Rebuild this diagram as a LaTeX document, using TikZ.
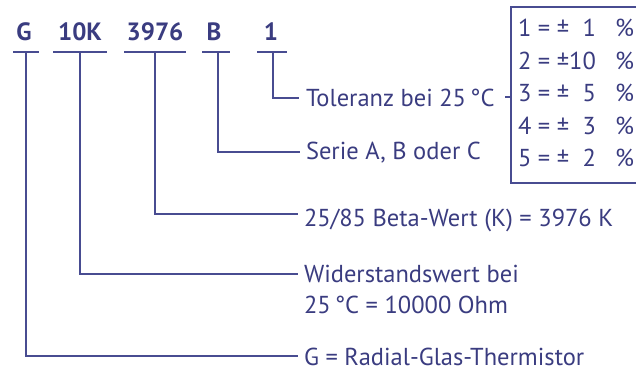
\documentclass[tikz,border=0pt]{standalone}
\usepackage{fontspec}
\setmainfont{PT Sans}
\definecolor{txt}{RGB}{58,60,128}
\definecolor{ln}{RGB}{72,76,145}
\begin{document}
\begin{tikzpicture}[x=1pt,y=-1pt,
  every node/.style={inner sep=0pt, outer sep=0pt, text=txt},
  lbl/.style={font=\fontsize{24.5}{31}\selectfont, anchor=base west},
  code/.style={font=\bfseries\fontsize{25}{30}\selectfont, anchor=base},
  conn/.style={draw=ln, line width=2pt},
  tabbox/.style={draw=ln, line width=2pt, minimum width=160pt, minimum height=176pt, anchor=north west}]
\useasboundingbox (0,0) rectangle (636,371);
% code letters
\node[code] (G) at (24,41) {G};
\node[code] (K) at (80,41) {10K};
\node[code] (beta) at (155,41) {3976};
\node[code] (ser) at (214,41) {B};
\node[code] (tol) at (271,41) {1};
% underlines
\coordinate (uG1) at (13,52);  \coordinate (uG2) at (39,52);
\coordinate (uK1) at (53,52);  \coordinate (uK2) at (107,52);
\coordinate (uB1) at (124,52); \coordinate (uB2) at (186,52);
\coordinate (uS1) at (202,52); \coordinate (uS2) at (230,52);
\coordinate (uT1) at (257,52); \coordinate (uT2) at (287,52);
\draw[conn] (uG1) -- (uG2);
\draw[conn] (uK1) -- (uK2);
\draw[conn] (uB1) -- (uB2);
\draw[conn] (uS1) -- (uS2);
\draw[conn] (uT1) -- (uT2);
% connector tops
\coordinate (vG) at (26,52);
\coordinate (vK) at (80,52);
\coordinate (vB) at (155,52);
\coordinate (vS) at (218,52);
\coordinate (vT) at (273,52);
% connector ends
\coordinate (eT) at (299,98);
\coordinate (eS) at (300,152);
\coordinate (eB) at (298,214);
\coordinate (eK) at (298,274);
\coordinate (eG) at (298,356);
\draw[conn] (vT) |- (eT);
\draw[conn] (vS) |- (eS);
\draw[conn] (vB) |- (eB);
\draw[conn] (vK) |- (eK);
\draw[conn] (vG) |- (eG);
% descriptions
\node[lbl] (tTol) at (306,106.5) {Toleranz bei 25\,°C};
\node[lbl] (tSer) at (306,160) {Serie A, B oder C};
\node[lbl] (tBeta) at (304,226.5) {25/85 Beta-Wert (K) = 3976 K};
\node[lbl] (tK1) at (304,282) {Widerstandswert bei};
\node[lbl] (tK2) at (304,313) {25\,°C = 10000 Ohm};
\node[lbl] (tG) at (304,365) {G = Radial-Glas-Thermistor};
% tolerance table
\begin{scope}
\clip (0,0) rectangle (636,371);
\node[tabbox] (tab) at (511,7) {};
\end{scope}
\coordinate (dash) at (505,97);
\draw[conn] (dash) -- (dash -| tab.west);
\node[lbl] (r1) at (518,37)  {1 = ±\phantom{1}1};
\node[lbl] (r2) at (518,69.5){2 = ±10};
\node[lbl] (r3) at (518,102) {3 = ±\phantom{1}5};
\node[lbl] (r4) at (518,134.5){4 = ±\phantom{1}3};
\node[lbl] (r5) at (518,167) {5 = ±\phantom{1}2};
\node[lbl] (p1) at (615,37)   {\%};
\node[lbl] (p2) at (615,69.5) {\%};
\node[lbl] (p3) at (615,102)  {\%};
\node[lbl] (p4) at (615,134.5){\%};
\node[lbl] (p5) at (615,167)  {\%};
\end{tikzpicture}
\end{document}
